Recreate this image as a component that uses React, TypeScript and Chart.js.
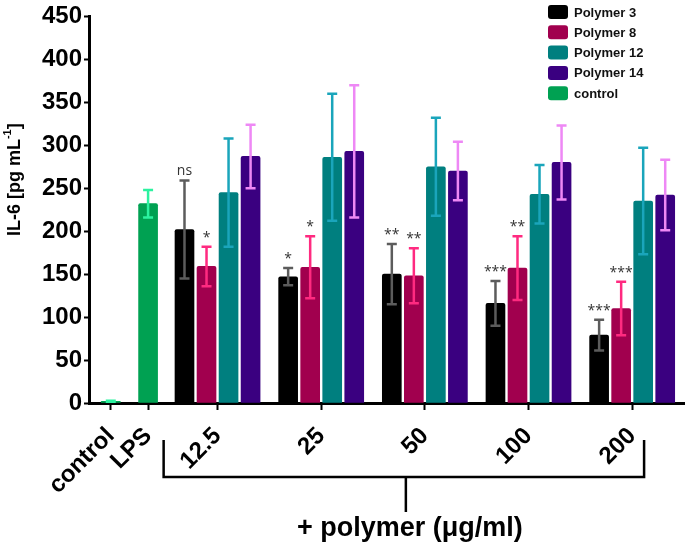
import React, { useEffect, useRef } from "react";
import { Chart, registerables } from "chart.js";

Chart.register(...registerables);

// ---------- data ----------
const controlLabels = ["control", "LPS"];
const groupLabels = ["12.5", "25", "50", "100", "200"];
const seriesNames = ["Polymer 3", "Polymer 8", "Polymer 12", "Polymer 14"];
const controlName = "control";

const polymer3 = [202, 147, 150, 116, 79];
const polymer3Err = [57, 10, 35, 26, 18];
const polymer8 = [159, 158, 148, 157, 110];
const polymer8Err = [23, 36, 32, 37, 31];
const polymer12 = [245, 286, 275, 243, 235];
const polymer12Err = [63, 74, 57, 34, 62];
const polymer14 = [287, 293, 270, 280, 242];
const polymer14Err = [37, 77, 34, 43, 41];
const controlValues = [2, 232];
const controlErr = [0.5, 16];

const polymer3Sig = ["ns", "*", "**", "***", "***"];
const polymer8Sig = ["*", "*", "**", "**", "***"];

const yMin = 0;
const yMax = 450;
const yStep = 50;
const yTitleMain = "IL-6 [pg mL";
const yTitleSup = "-1";
const yTitleEnd = "]";
const xGroupTitle = "+ polymer (\u03bcg/ml)";

// ---------- layout (not data) ----------
const X_MAX = 5.74;
const CONTROL_POS = [0.21, 0.57];
const GROUP_START = 1.24;
const SLOT = 0.2125;
const BAR_PX = 19;
const FONT = "'Liberation Sans', Arial, sans-serif";

const barColors = ["#000000", "#a1004e", "#007f7f", "#3a0080"];
const errColors = ["#5c5c5c", "#ff2a80", "#1aa5bb", "#ee88f5"];
const controlColor = "#00a152";
const controlErrColor = "#2cf2a0";

export default function App() {
  const ref = useRef<HTMLCanvasElement>(null);

  useEffect(() => {
    const groupPos = groupLabels.map((_, i) => GROUP_START + i);
    const tickPositions = [...CONTROL_POS, ...groupPos];
    const allLabels = [...controlLabels, ...groupLabels];
    const seriesValues = [polymer3, polymer8, polymer12, polymer14];
    const seriesErr = [polymer3Err, polymer8Err, polymer12Err, polymer14Err];
    const seriesSig: (string[] | null)[] = [polymer3Sig, polymer8Sig, null, null];

    const datasets: any[] = seriesNames.map((name, k) => ({
      label: name,
      data: seriesValues[k].map((v, i) => ({ x: groupPos[i] + (k - 1.5) * SLOT, y: v })),
      backgroundColor: barColors[k],
      errors: seriesErr[k],
      errColor: errColors[k],
      sig: seriesSig[k],
      grouped: false,
      barThickness: BAR_PX,
      borderRadius: 2,
      borderSkipped: "bottom",
    }));
    datasets.push({
      label: controlName,
      data: controlValues.map((v, i) => ({ x: CONTROL_POS[i], y: v })),
      backgroundColor: controlColor,
      errors: controlErr,
      errColor: controlErrColor,
      sig: null,
      grouped: false,
      barThickness: BAR_PX,
      borderRadius: 2,
      borderSkipped: "bottom",
    });

    const errorPlugin = {
      id: "errorBars",
      afterDatasetsDraw(chart: any) {
        const ctx = chart.ctx;
        const y = chart.scales.y;
        chart.data.datasets.forEach((ds: any, di: number) => {
          const meta = chart.getDatasetMeta(di);
          meta.data.forEach((bar: any, i: number) => {
            const v = ds.data[i].y;
            const e = ds.errors[i];
            const x = bar.x;
            const yt = y.getPixelForValue(v + e);
            const yb = y.getPixelForValue(v - e);
            ctx.save();
            ctx.strokeStyle = ds.errColor;
            ctx.lineWidth = 2.5;
            ctx.beginPath();
            ctx.moveTo(x, yb);
            ctx.lineTo(x, yt);
            ctx.moveTo(x - 5, yt);
            ctx.lineTo(x + 5, yt);
            ctx.moveTo(x - 5, yb);
            ctx.lineTo(x + 5, yb);
            ctx.stroke();
            if (ds.sig && ds.sig[i]) {
              ctx.fillStyle = "#333";
              ctx.font = `14px 'Open Sans', sans-serif`;
              ctx.textAlign = "center";
              ctx.textBaseline = "bottom";
              ctx.fillText(ds.sig[i], x, yt - 2);
            }
            ctx.restore();
          });
        });
      },
    };

    const decorPlugin = {
      id: "decor",
      afterDraw(chart: any) {
        const ctx = chart.ctx;
        const area = chart.chartArea;
        const xs = chart.scales.x;
        // legend
        ctx.save();
        chart.data.datasets.forEach((ds: any, i: number) => {
          const yc = 12 + i * 20.3;
          ctx.fillStyle = ds.backgroundColor;
          ctx.beginPath();
          (ctx as any).roundRect(548, yc - 7, 20, 14, 3);
          ctx.fill();
          ctx.fillStyle = "#111";
          ctx.font = `bold 13px ${FONT}`;
          ctx.textAlign = "left";
          ctx.textBaseline = "middle";
          ctx.fillText(ds.label, 574, yc + 1);
        });
        ctx.restore();

        // y title with superscript
        ctx.save();
        ctx.translate(15, (area.top + area.bottom) / 2 - 30);
        ctx.rotate(-Math.PI / 2);
        ctx.fillStyle = "#000";
        ctx.textBaseline = "middle";
        ctx.textAlign = "left";
        const bigFont = `bold 18px ${FONT}`;
        const smallFont = `bold 11px ${FONT}`;
        ctx.font = bigFont;
        const w1 = ctx.measureText(yTitleMain).width;
        const w3 = ctx.measureText(yTitleEnd).width;
        ctx.font = smallFont;
        const w2 = ctx.measureText(yTitleSup).width;
        const total = w1 + w2 + w3;
        let cx = -total / 2;
        ctx.font = bigFont;
        ctx.fillText(yTitleMain, cx, 0);
        cx += w1;
        ctx.font = smallFont;
        ctx.fillText(yTitleSup, cx, -7);
        cx += w2;
        ctx.font = bigFont;
        ctx.fillText(yTitleEnd, cx, 0);
        ctx.restore();

        // bracket
        const gp = groupLabels.map((_, i) => GROUP_START + i);
        const left = xs.getPixelForValue(gp[0] - 0.52);
        const right = xs.getPixelForValue(gp[gp.length - 1] + 0.115);
        const mid = (left + right) / 2 + 2;
        const b = area.bottom;
        ctx.save();
        ctx.strokeStyle = "#000";
        ctx.lineWidth = 2.5;
        ctx.beginPath();
        ctx.moveTo(left, b + 37);
        ctx.lineTo(left, b + 74);
        ctx.lineTo(right, b + 74);
        ctx.lineTo(right, b + 37);
        ctx.moveTo(mid, b + 74);
        ctx.lineTo(mid, b + 109);
        ctx.stroke();
        ctx.fillStyle = "#000";
        ctx.font = `bold 27px ${FONT}`;
        ctx.textAlign = "center";
        ctx.textBaseline = "middle";
        ctx.fillText(xGroupTitle, mid + 4, b + 126);
        ctx.restore();
      },
    };

    const chart = new Chart(ref.current as HTMLCanvasElement, {
      type: "bar",
      data: { datasets },
      options: {
        responsive: false,
        animation: false,
        layout: { padding: { top: 16, right: 2, left: 0, bottom: 0 } },
        plugins: { legend: { display: false }, tooltip: { enabled: false } },
        scales: {
          x: {
            type: "linear",
            offset: false,
            min: 0,
            max: X_MAX,
            afterBuildTicks: (s: any) => {
              s.ticks = tickPositions.map((value) => ({ value }));
            },
            afterFit: (s: any) => {
              s.height = 142;
            },
            ticks: {
              autoSkip: false,
              minRotation: 45,
              maxRotation: 45,
              callback: (_v: any, i: number) => allLabels[i],
              font: { size: 24, weight: "bold", family: FONT },
              color: "#000",
              padding: 12,
            },
            grid: {
              offset: false,
              drawOnChartArea: false,
              drawTicks: true,
              tickLength: 7,
              tickColor: "#000",
              tickWidth: 2,
            },
            border: { display: true, color: "#000", width: 3 },
          } as any,
          y: {
            min: yMin,
            max: yMax,
            afterFit: (s: any) => {
              s.width = 89;
            },
            ticks: {
              stepSize: yStep,
              font: { size: 24, weight: "bold", family: FONT },
              color: "#000",
              padding: 2,
            },
            grid: {
              drawOnChartArea: false,
              drawTicks: true,
              tickLength: 5,
              tickColor: "#000",
              tickWidth: 2,
            },
            border: { display: true, color: "#000", width: 3 },
          } as any,
        },
      },
      plugins: [errorPlugin, decorPlugin],
    } as any);
    return () => chart.destroy();
  }, []);

  return (
    <div style={{ position: "absolute", left: 0, top: 0, width: 686, height: 545, background: "#fff" }}>
      <canvas ref={ref} width={686} height={545} style={{ width: 686, height: 545, display: "block" }} />
    </div>
  );
}
